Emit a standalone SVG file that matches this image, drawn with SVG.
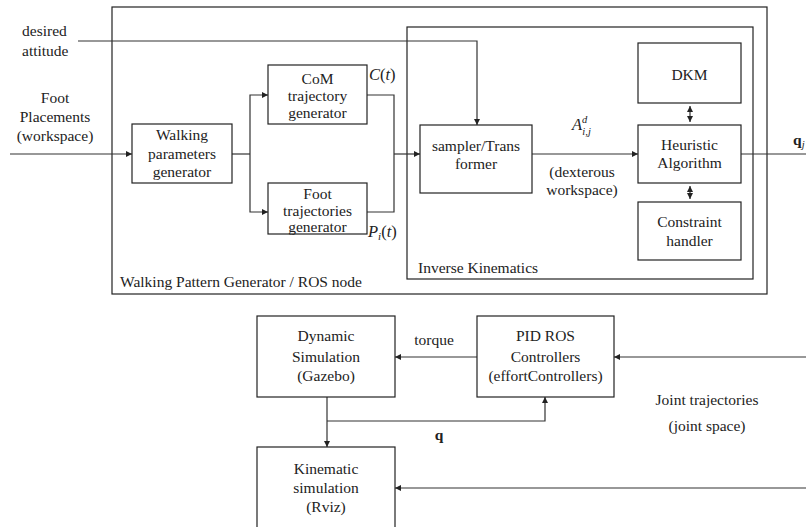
<svg xmlns="http://www.w3.org/2000/svg" width="806" height="527" viewBox="0 0 806 527">
<style>
text{font-family:"Liberation Serif","Times New Roman",serif;font-size:15.5px;fill:#222}
.c{text-anchor:middle}
.box{fill:#fff;stroke:#222;stroke-width:1.2}
.frame{fill:none;stroke:#222;stroke-width:1.2}
.ln{fill:none;stroke:#333;stroke-width:1.2}
.it{font-style:italic}
.b{font-weight:bold}
.m{font-size:16.5px}
</style>
<defs>
<marker id="ah" viewBox="0 0 10 10" refX="10" refY="5" markerWidth="6" markerHeight="6" orient="auto-start-reverse" markerUnits="userSpaceOnUse">
<path d="M0,0 L10,5 L0,10 z" fill="#222"/>
</marker>
</defs>
<rect width="806" height="527" fill="#fff"/>

<g id="wpg-frame">
<rect class="frame" x="112" y="7" width="655" height="287"/>
<text x="120" y="287">Walking Pattern Generator / ROS node</text>
</g>
<g id="ik-frame">
<rect class="frame" x="407" y="27" width="346" height="252"/>
<text x="418" y="273">Inverse Kinematics</text>
</g>

<g id="connectors">
<polyline class="ln" points="78,41 477,41 477,125" marker-end="url(#ah)"/>
<line class="ln" x1="10" y1="154" x2="132" y2="154" marker-end="url(#ah)"/>
<polyline class="ln" points="232,154 250,154"/>
<polyline class="ln" points="250,154 250,95 268,95" marker-end="url(#ah)"/>
<polyline class="ln" points="250,154 250,212 268,212" marker-end="url(#ah)"/>
<polyline class="ln" points="367,95 394,95 394,212 367,212"/>
<line class="ln" x1="394" y1="154" x2="420" y2="154" marker-end="url(#ah)"/>
<line class="ln" x1="532" y1="154" x2="638" y2="154" marker-end="url(#ah)"/>
<line class="ln" x1="690" y1="106" x2="690" y2="122" marker-start="url(#ah)" marker-end="url(#ah)"/>
<line class="ln" x1="690" y1="186" x2="690" y2="199" marker-start="url(#ah)" marker-end="url(#ah)"/>
<line class="ln" x1="741" y1="154" x2="806" y2="154"/>
<line class="ln" x1="477" y1="357" x2="395" y2="357" marker-end="url(#ah)"/>
<line class="ln" x1="806" y1="357" x2="614" y2="357" marker-end="url(#ah)"/>
<line class="ln" x1="327" y1="397" x2="327" y2="447" marker-end="url(#ah)"/>
<polyline class="ln" points="327,421 545,421 545,397" marker-end="url(#ah)"/>
<line class="ln" x1="806" y1="488" x2="395" y2="488" marker-end="url(#ah)"/>
</g>

<g id="labels">
<text x="22" y="36">desired</text>
<text x="22" y="56">attitude</text>
<text class="c" x="55" y="103">Foot</text>
<text class="c" x="55" y="122">Placements</text>
<text class="c" x="55" y="141">(workspace)</text>
<text class="m" x="369" y="80"><tspan class="it">C</tspan>(<tspan class="it">t</tspan>)</text>
<text class="m" x="368" y="237"><tspan class="it">P</tspan><tspan class="it" font-size="11" dy="3">i</tspan><tspan dy="-3">(</tspan><tspan class="it">t</tspan>)</text>
<text class="m" x="572" y="130"><tspan class="it">A</tspan><tspan class="it" font-size="10.5" dy="-7">d</tspan><tspan class="it" font-size="10.5" dx="-5" dy="12">i,j</tspan></text>
<text class="c" x="582" y="177">(dexterous</text>
<text class="c" x="582" y="195">workspace)</text>
<text x="793" y="145"><tspan class="b">q</tspan><tspan class="it" font-size="10.5" dy="3">j</tspan></text>
<text class="c" x="434" y="345">torque</text>
<text class="c b" x="439" y="440">q</text>
<text class="c" x="707" y="405">Joint trajectories</text>
<text class="c" x="707" y="431">(joint space)</text>
</g>

<g id="walking-params">
<rect class="box" x="132" y="124" width="100" height="59"/>
<text class="c" x="182" y="140">Walking</text>
<text class="c" x="182" y="159">parameters</text>
<text class="c" x="182" y="177">generator</text>
</g>
<g id="com-gen">
<rect class="box" x="268" y="65" width="99" height="59"/>
<text class="c" x="317.5" y="84">CoM</text>
<text class="c" x="317.5" y="101">trajectory</text>
<text class="c" x="317.5" y="118">generator</text>
</g>
<g id="foot-gen">
<rect class="box" x="268" y="183" width="99" height="51"/>
<text class="c" x="317.5" y="199">Foot</text>
<text class="c" x="317.5" y="216">trajectories</text>
<text class="c" x="317.5" y="232">generator</text>
</g>
<g id="sampler">
<rect class="box" x="420" y="125" width="112" height="68"/>
<text class="c" x="476" y="151">sampler/Trans</text>
<text class="c" x="476" y="169">former</text>
</g>
<g id="dkm">
<rect class="box" x="638" y="43" width="103" height="60"/>
<text class="c" x="689.5" y="80">DKM</text>
</g>
<g id="heuristic">
<rect class="box" x="638" y="125" width="103" height="58"/>
<text class="c" x="689.5" y="150">Heuristic</text>
<text class="c" x="689.5" y="168">Algorithm</text>
</g>
<g id="constraint">
<rect class="box" x="638" y="202" width="103" height="58"/>
<text class="c" x="689.5" y="227">Constraint</text>
<text class="c" x="689.5" y="246">handler</text>
</g>
<g id="dynamic-sim">
<rect class="box" x="257" y="316" width="138" height="81"/>
<text class="c" x="326" y="341">Dynamic</text>
<text class="c" x="326" y="362">Simulation</text>
<text class="c" x="326" y="381">(Gazebo)</text>
</g>
<g id="pid">
<rect class="box" x="477" y="316" width="137" height="81"/>
<text class="c" x="545.5" y="341">PID ROS</text>
<text class="c" x="545.5" y="362">Controllers</text>
<text class="c" x="545.5" y="381">(effortControllers)</text>
</g>
<g id="kinematic-sim">
<rect class="box" x="257" y="447" width="138" height="85"/>
<text class="c" x="326" y="474">Kinematic</text>
<text class="c" x="326" y="493">simulation</text>
<text class="c" x="326" y="512">(Rviz)</text>
</g>
</svg>
